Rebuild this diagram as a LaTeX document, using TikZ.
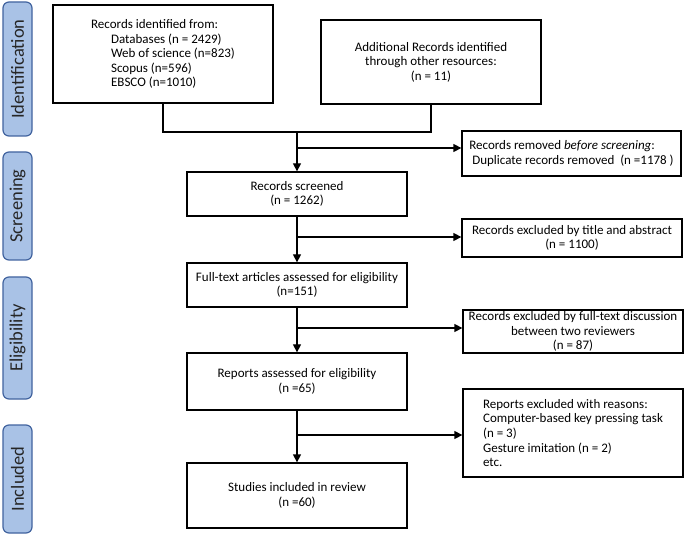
\documentclass[tikz,border=0pt]{standalone}
\usepackage{fontspec}
\setmainfont{Carlito}
\usetikzlibrary{arrows.meta}
\definecolor{phasefill}{HTML}{A9C2E6}
\definecolor{phaseline}{HTML}{41639F}
\tikzset{
  box/.style={draw=black, line width=1.3pt, fill=white, font=\fontsize{13}{14.6}\selectfont, align=center, inner sep=1pt},
  phase/.style={draw=phaseline, line width=1.2pt, fill=phasefill, rounded corners=6pt, minimum width=29pt, font=\fontsize{18.5}{20}\selectfont, text=black!85, inner sep=0pt},
  conn/.style={line width=1.3pt, draw=black},
  arr/.style={conn, -{Triangle[length=8pt,width=8pt]}},
}
\begin{document}
\begin{tikzpicture}[x=1pt,y=-1pt]
\useasboundingbox (0,0) rectangle (685,534);
% phase labels
\node[phase, minimum height=134pt] (pid) at (17.5,69) {\rotatebox{90}{Identification}};
\node[phase, minimum height=108pt] (psc) at (17.5,206) {\rotatebox{90}{Screening}};
\node[phase, minimum height=122pt] (pel) at (17.5,338) {\rotatebox{90}{Eligibility}};
\node[phase, minimum height=108pt] (pin) at (17.5,479) {\rotatebox{90}{Included}};
% boxes
\node[box, minimum width=220pt, minimum height=98pt, align=left] (rec) at (163,54)
  {Records identified from:\\\hspace*{20pt}Databases (n = 2429)\\\hspace*{20pt}Web of science (n=823)\\\hspace*{20pt}Scopus (n=596)\\\hspace*{20pt}EBSCO (n=1010)};
\node[box, minimum width=220pt, minimum height=84pt] (add) at (431,62)
  {Additional Records identified\\through other resources:\\(n = 11)};
\node[box, minimum width=219pt, minimum height=45pt, align=left] (rem) at (571.5,153.5)
  {Records removed \textit{before screening}:\\\hspace*{3pt}Duplicate records removed\ \ (n =1178 )};
\node[box, minimum width=220pt, minimum height=44pt] (scr) at (297,194)
  {Records screened\\(n = 1262)};
\node[box, minimum width=220pt, minimum height=38pt] (exa) at (572,238)
  {Records excluded by title and abstract\\(n = 1100)};
\node[box, minimum width=220pt, minimum height=44pt] (ful) at (297,285)
  {Full-text articles assessed for eligibility\\(n=151)};
\node[box, minimum width=220pt, minimum height=43pt, inner sep=0pt] (exf) at (573,331.5)
  {Records excluded by full-text discussion\\between two reviewers\\(n = 87)};
\node[box, minimum width=220pt, minimum height=57pt] (rep) at (297,381.5)
  {Reports assessed for eligibility\\(n =65)};
\node[box, minimum width=220pt, minimum height=88pt, align=left] (exr) at (573,433)
  {Reports excluded with reasons:\\Computer-based key pressing task\\(n = 3)\\Gesture imitation (n = 2)\\etc.};
\node[box, minimum width=220pt, minimum height=65pt] (stu) at (297,495.5)
  {Studies included in review\\(n =60)};
% junction coordinates
\coordinate (j0) at (297,132);
\coordinate (b1) at (297,148);
\coordinate (b2) at (297,237);
\coordinate (b3) at (297,328);
\coordinate (b4) at (297,435);
% connectors
\draw[conn] (rec.south) -- (rec.south |- j0) -- (add.south |- j0) -- (add.south);
\draw[arr] (j0) -- (scr.north);
\draw[arr] (b1) -- (b1 -| rem.west);
\draw[arr] (scr.south) -- (ful.north);
\draw[arr] (b2) -- (b2 -| exa.west);
\draw[arr] (ful.south) -- (rep.north);
\draw[arr] (b3) -- (b3 -| exf.west);
\draw[arr] (rep.south) -- (stu.north);
\draw[arr] (b4) -- (b4 -| exr.west);
\end{tikzpicture}
\end{document}
